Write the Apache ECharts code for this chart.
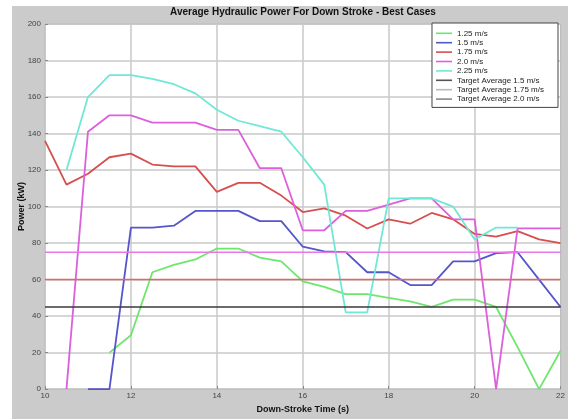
<!DOCTYPE html>
<html>
<head>
<meta charset="utf-8">
<script src="https://cdn.jsdelivr.net/npm/echarts@6/dist/echarts.min.js"></script>
<style>
  html, body { margin: 0; padding: 0; background: #fff; }
  #chart { width: 568px; height: 419px; }
</style>
</head>
<body>
<div id="chart"></div>
<script>
// down-stroke time (s), one sample every 0.5 s
var times = [10, 10.5, 11, 11.5, 12, 12.5, 13, 13.5, 14, 14.5, 15, 15.5, 16,
             16.5, 17, 17.5, 18, 18.5, 19, 19.5, 20, 20.5, 21, 21.5, 22];

// hydraulic power (kW) per speed
var power125 = [null, null, null, 20, 29.5, 64, 68, 71, 77, 77, 72, 70, 59,
                56, 52, 52, 50, 48, 45, 49, 49, 45, 23, 0, 21];
var power15  = [null, null, 0, 0, 88.5, 88.5, 89.5, 97.6, 97.6, 97.6, 92, 92, 78,
                75.5, 75, 64, 64, 57, 57, 70, 70, 74.5, 75, 60, 45];
var power175 = [136, 112, 118, 127, 129, 123, 122, 122, 108, 113, 113, 106, 97,
                99, 95, 88, 93, 90.6, 96.5, 93, 85, 83.5, 86.5, 82, 80];
var power20  = [null, 0, 141, 150, 150, 146, 146, 146, 142, 142, 121, 121, 87,
                87, 97.6, 97.6, 101, 104.5, 104.5, 93, 93, 0, 88, 88, 88];
var power225 = [null, 120, 160, 172, 172, 170, 167, 162, 153, 147, 144, 141, 127,
                112, 42, 42, 104.5, 104.5, 104.5, 100, 82, 88.5, 88.5, null, null];

var seriesNames = ['1.25 m/s', '1.5 m/s', '1.75 m/s', '2.0 m/s', '2.25 m/s'];
var seriesColors = ['#6ee66e', '#5555cc', '#d64f4f', '#dc5fdc', '#6fe8d6'];

// target averages (kW)
var targetNames = ['Target Average 1.5 m/s', 'Target Average 1.75 m/s', 'Target Average 2.0 m/s'];
var targetValues = [45, 60, 75];
var targetColors = ['#3a3a3a', '#e86464', '#e878e8'];
var targetLegendColors = ['#555555', '#bbbbbb', '#888888'];

var chart = echarts.init(document.getElementById('chart'));

function pairs(vals) {
  return times.map(function (t, i) { return [t, vals[i]]; });
}

var allPower = [power125, power15, power175, power20, power225];
var series = allPower.map(function (vals, i) {
  return {
    name: seriesNames[i],
    type: 'line',
    data: pairs(vals),
    symbol: 'none',
    lineStyle: { color: seriesColors[i], width: 1.8 },
    itemStyle: { color: seriesColors[i] }
  };
});
targetValues.forEach(function (v, i) {
  series.push({
    name: targetNames[i],
    type: 'line',
    data: [[times[0], v], [times[times.length - 1], v]],
    symbol: 'none',
    lineStyle: { color: targetColors[i], width: 1.5 },
    itemStyle: { color: targetColors[i] }
  });
});

var legendData = seriesNames.map(function (n) { return { name: n }; });
targetNames.forEach(function (n, i) {
  legendData.push({ name: n, itemStyle: { color: targetLegendColors[i] } });
});

var option = {
  backgroundColor: '#cbcbcb',
  animation: false,
  textStyle: { fontFamily: 'Liberation Sans, Arial, sans-serif' },
  graphic: [
    { type: 'rect', left: 0, top: 0, shape: { width: 12, height: 419 }, style: { fill: '#fff' }, silent: true },
    { type: 'rect', left: 0, top: 0, shape: { width: 568, height: 6 }, style: { fill: '#fff' }, silent: true }
  ],
  title: {
    text: 'Average Hydraulic Power For Down Stroke - Best Cases',
    left: 303,
    textAlign: 'center',
    top: 7,
    padding: 0,
    textStyle: { fontSize: 10, fontWeight: 'bold', color: '#111' }
  },
  legend: {
    data: legendData,
    orient: 'vertical',
    right: 10,
    top: 23,
    icon: 'rect',
    itemWidth: 16,
    itemHeight: 1.6,
    itemGap: 0.8,
    padding: [6, 14, 4, 4],
    backgroundColor: '#fff',
    borderColor: '#444',
    borderWidth: 1,
    borderRadius: 0,
    textStyle: { fontSize: 8, color: '#222', lineHeight: 8.6 }
  },
  grid: {
    left: 45, right: 7, top: 24, bottom: 22,
    show: true,
    backgroundColor: '#fff',
    borderColor: '#999',
    borderWidth: 1
  },
  xAxis: {
    type: 'value',
    min: 10, max: 22, interval: 2,
    name: 'Down-Stroke Time (s)',
    nameLocation: 'middle',
    nameGap: 14,
    nameTextStyle: { fontSize: 9, fontWeight: 'bold', color: '#111' },
    axisLine: { show: false },
    axisTick: { inside: true, length: 3, lineStyle: { color: '#888' } },
    axisLabel: { fontSize: 8, color: '#444', margin: 3 },
    splitLine: { lineStyle: { color: '#c8c8c8', width: 1.5 } }
  },
  yAxis: {
    type: 'value',
    min: 0, max: 200, interval: 20,
    name: 'Power (kW)',
    nameLocation: 'middle',
    nameGap: 19,
    nameMoveOverlap: false,
    nameTextStyle: { fontSize: 9, fontWeight: 'bold', color: '#111' },
    axisLine: { show: false },
    axisTick: { inside: true, length: 3, lineStyle: { color: '#888' } },
    axisLabel: { fontSize: 8, color: '#444', margin: 4 },
    splitLine: { lineStyle: { color: '#c8c8c8', width: 1.5 } }
  },
  series: series
};

chart.setOption(option);
</script>
</body>
</html>
